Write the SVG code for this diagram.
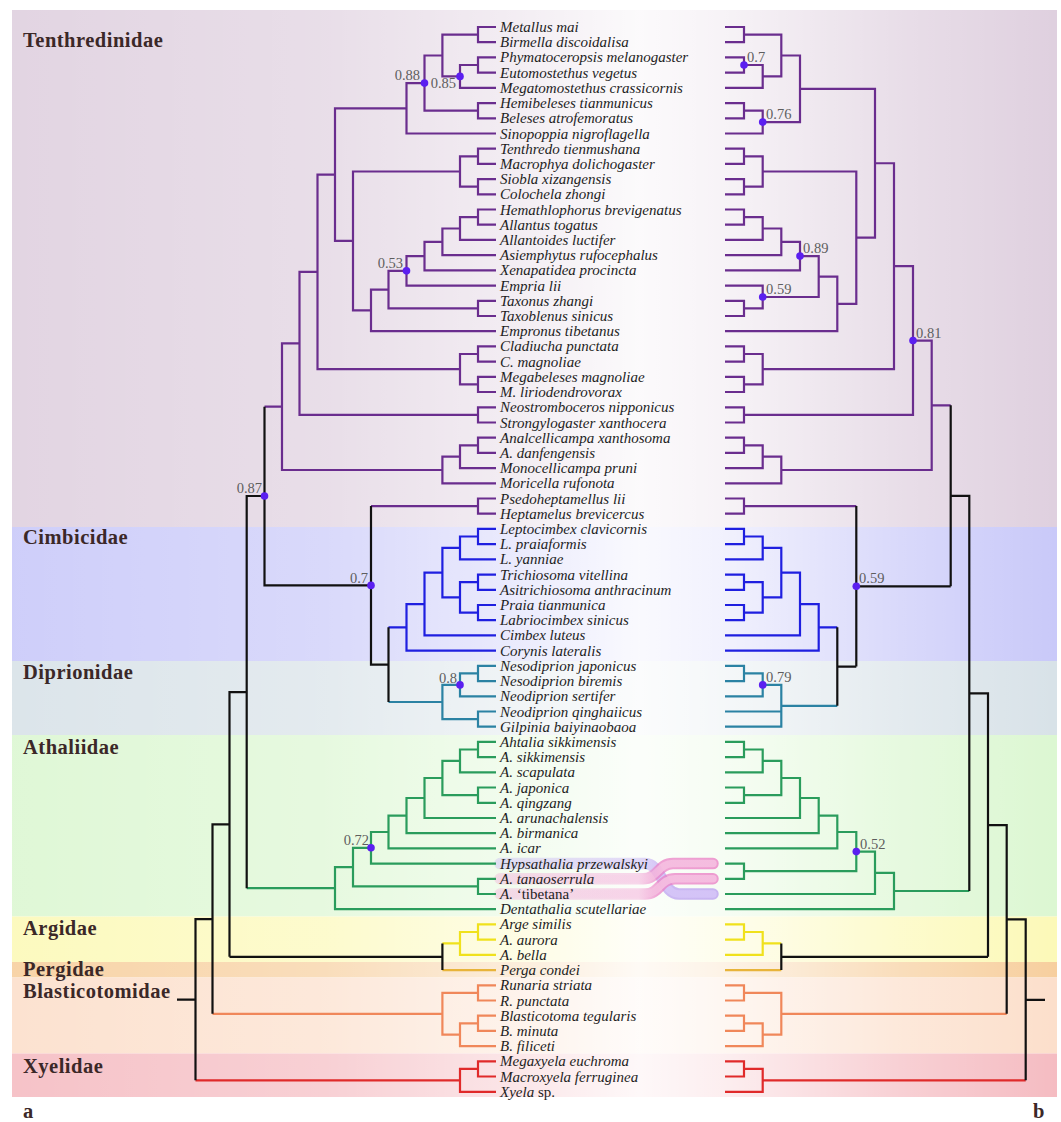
<svg xmlns="http://www.w3.org/2000/svg" width="1061" height="1122" viewBox="0 0 1061 1122">
<style>
.t{font-family:"Liberation Serif","Times New Roman",serif;font-style:italic;font-size:15px;fill:#1e1e1e}
.n{font-style:normal}
.s{font-family:"Liberation Serif","Times New Roman",serif;font-size:14.5px;fill:#5e5e5e}
.f{font-family:"Liberation Serif","Times New Roman",serif;font-weight:bold;font-size:20.5px;fill:#3b2828;letter-spacing:0.5px}
.e{fill:none;stroke-width:2.2;stroke-linejoin:miter}
.pu{stroke:#6a2d8e}.bl{stroke:#1f1fe0}.te{stroke:#2b82a3}.gr{stroke:#2a9c5c}.ye{stroke:#f0e11c}.pe{stroke:#e8b43a}.or{stroke:#f0875a}.rd{stroke:#e02a2a}.bk{stroke:#111}
.d{fill:#5b1ff0}
</style>
<defs>
<linearGradient id="wash" x1="12" y1="0" x2="1057" y2="0" gradientUnits="userSpaceOnUse">
<stop offset="0" stop-color="#fff" stop-opacity="0.1"/>
<stop offset="0.3" stop-color="#fff" stop-opacity="0.3"/>
<stop offset="0.47" stop-color="#fff" stop-opacity="0.6"/>
<stop offset="0.6" stop-color="#fff" stop-opacity="0.9"/>
<stop offset="0.68" stop-color="#fff" stop-opacity="0.75"/>
<stop offset="0.85" stop-color="#fff" stop-opacity="0.3"/>
<stop offset="1" stop-color="#fff" stop-opacity="0"/>
</linearGradient>
<linearGradient id="pkO" x1="500" y1="0" x2="713" y2="0" gradientUnits="userSpaceOnUse">
<stop offset="0" stop-color="#f2a6d6" stop-opacity="0.35"/>
<stop offset="0.65" stop-color="#f2a6d6" stop-opacity="0.45"/>
<stop offset="0.74" stop-color="#ea7cc4" stop-opacity="0.7"/>
<stop offset="1" stop-color="#ea7cc4" stop-opacity="0.75"/>
</linearGradient>
<linearGradient id="pkI" x1="500" y1="0" x2="713" y2="0" gradientUnits="userSpaceOnUse">
<stop offset="0" stop-color="#f7cce6" stop-opacity="0.25"/>
<stop offset="0.68" stop-color="#f7cce6" stop-opacity="0.3"/>
<stop offset="0.76" stop-color="#f6c2e2" stop-opacity="0.85"/>
<stop offset="1" stop-color="#f6c2e2" stop-opacity="0.85"/>
</linearGradient>
<linearGradient id="lvO" x1="500" y1="0" x2="713" y2="0" gradientUnits="userSpaceOnUse">
<stop offset="0" stop-color="#c4b0f4" stop-opacity="0.35"/>
<stop offset="0.65" stop-color="#c4b0f4" stop-opacity="0.45"/>
<stop offset="0.78" stop-color="#b89cf0" stop-opacity="0.7"/>
<stop offset="1" stop-color="#b89cf0" stop-opacity="0.75"/>
</linearGradient>
<linearGradient id="lvI" x1="500" y1="0" x2="713" y2="0" gradientUnits="userSpaceOnUse">
<stop offset="0" stop-color="#dcd0fa" stop-opacity="0.25"/>
<stop offset="0.68" stop-color="#dcd0fa" stop-opacity="0.3"/>
<stop offset="0.8" stop-color="#d6c6f8" stop-opacity="0.85"/>
<stop offset="1" stop-color="#d6c6f8" stop-opacity="0.85"/>
</linearGradient>
</defs>
<rect width="1061" height="1122" fill="#fff"/>
<g id="bands">
<rect x="12" y="10" width="1045" height="517" fill="#dfd0df"/>
<rect x="12" y="527" width="1045" height="134" fill="#c9c9f9"/>
<rect x="12" y="661" width="1045" height="74" fill="#d8e2e8"/>
<rect x="12" y="735" width="1045" height="181.5" fill="#dcf7d2"/>
<rect x="12" y="916.5" width="1045" height="45.5" fill="#fcf9b8"/>
<rect x="12" y="962" width="1045" height="15.5" fill="#f7cf9e"/>
<rect x="12" y="977.5" width="1045" height="76" fill="#fcdfcb"/>
<rect x="12" y="1053.5" width="1045" height="43.5" fill="#f5bcc2"/>
<rect x="12" y="10" width="1045" height="1087" fill="url(#wash)"/>
</g>
<g id="family-labels">
<text class="f" x="23" y="47">Tenthredinidae</text>
<text class="f" x="23" y="544">Cimbicidae</text>
<text class="f" x="23" y="679">Diprionidae</text>
<text class="f" x="23" y="754">Athaliidae</text>
<text class="f" x="23" y="935">Argidae</text>
<text class="f" x="23" y="975.5">Pergidae</text>
<text class="f" x="23" y="998">Blasticotomidae</text>
<text class="f" x="23" y="1073">Xyelidae</text>
<text class="f" x="23" y="1118">a</text>
<text class="f" x="1033" y="1118">b</text>
</g>
<g id="ribbons" fill="none" stroke-linecap="round">
<path d="M500 863.6H645C662 863.6 662 894 679 894H713" stroke="url(#lvO)" stroke-width="11.5"/>
<path d="M500 863.6H645C662 863.6 662 894 679 894H713" stroke="url(#lvI)" stroke-width="7.5"/>
<path d="M500 878.8H643C658 878.8 658 863.6 673 863.6H713" stroke="url(#pkO)" stroke-width="11.5"/>
<path d="M500 878.8H643C658 878.8 658 863.6 673 863.6H713" stroke="url(#pkI)" stroke-width="7.5"/>
<path d="M500 894H645C660 894 660 878.8 675 878.8H713" stroke="url(#pkO)" stroke-width="11.5"/>
<path d="M500 894H645C660 894 660 878.8 675 878.8H713" stroke="url(#pkI)" stroke-width="7.5"/>
</g>
<g id="connectors">
<g id="tree-a">
<path class="e pu" d="M496 27H478V42.2H496M496 57.4H478V72.6H496M478 65H460V87.8H496M478 34.6H442.4V76.4H460M496 103.1H478V118.3H496M442.4 55.5H424.5V110.7H478M424.5 83.1H406.5V133.5H496M496 148.7H478V163.9H496M496 179.1H478V194.3H496M478 156.3H460V186.7H478M496 209.5H478V224.7H496M478 217.1H460V239.9H496M460 228.5H442.4V255.2H496M442.4 241.85H424.5V270.4H496M424.5 256.1H406.5V285.6H496M496 300.8H478V316H496M406.5 270.85H388.5V308.4H478M388.5 289.6H371V331.2H496M460 171.5H353V310.4H371M406.5 108.3H335V240.95H353M496 346.4H478V361.6H496M496 376.8H478V392H496M478 354H460V384.4H478M335 174.6H317.5V369.2H460M496 407.3H478V422.5H496M317.5 271.9H299.5V414.9H478M496 437.7H478V452.9H496M478 445.3H460V468.1H496M460 456.7H442.4V483.3H496M299.5 343.4H282V470H442.4M282 406.7H264.5M496 498.5H478V513.7H496M478 506.1H371"/>
<path class="e bl" d="M496 528.9H478V544.1H496M478 536.5H460V559.4H496M496 574.6H478V589.8H496M496 605H478V620.2H496M478 582.2H460V612.6H478M460 547.95H442.4V597.4H460M442.4 572.7H424.5V635.4H496M424.5 604.05H406.5V650.6H496M406.5 627.3H388.5"/>
<path class="e te" d="M496 665.8H478V681.1H496M478 673.45H460V696.3H496M496 711.5H478V726.7H496M460 684.9H442.4V719.1H478M442.4 702H388.5"/>
<path class="e gr" d="M496 741.9H478V757.1H496M478 749.5H460V772.3H496M496 787.5H478V802.8H496M460 760.9H442.4V795.15H478M442.4 778H424.5V818H496M424.5 798H406.5V833.2H496M406.5 815.6H388.5V848.4H496M388.5 832H371V863.6H496M496 878.8H478V894H496M371 847.8H353V886.4H478M353 867.1H335V909.2H496M335 888.15H246.7"/>
<path class="e ye" d="M496 924.4H478V939.6H496M478 932H460V954.9H496M460 943.45H442.4"/>
<path class="e pe" d="M442.4 970.1H496"/>
<path class="e or" d="M496 985.3H478V1000.5H496M496 1015.7H478V1030.9H496M478 1023.3H460V1046.1H496M478 992.9H442.4V1034.7H460M442.4 1013.8H212.5"/>
<path class="e rd" d="M496 1061.3H478V1076.5H496M478 1068.9H460V1091.8H496M460 1080.35H195.5"/>
<path class="e bk" d="M388.5 627.3V702M388.5 664.65H371V506.1M371 585.4H264.5V406.7M264.5 496H246.7V888.15M442.4 943.45V970.1M442.4 956.8H229.5M246.7 692.1H229.5V956.8M229.5 824.45H212.5V1013.8M212.5 919.1H195.5V1080.35M195.5 999.7H177"/>
</g>
<g id="tree-b">
<path class="e pu" d="M725 27H744V42.2H725M725 57.4H744V72.6H725M744 65H762.7V87.8H725M744 34.6H781.3V76.4H762.7M725 103.1H744V118.3H725M744 110.7H762.7V133.5H725M781.3 55.5H800V122.1H762.7M725 148.7H744V163.9H725M725 179.1H744V194.3H725M744 156.3H762.7V186.7H744M725 209.5H744V224.7H725M744 217.1H762.7V239.9H725M762.7 228.5H781.3V255.2H725M781.3 241.85H800V270.4H725M725 285.6H762.7V308.4H744M725 300.8H744V316H725M800 256.1H818.7V297H762.7M818.7 276.55H837.3V331.2H725M762.7 171.5H856.3V303.9H837.3M800 88.8H875V237.7H856.3M725 346.4H744V361.6H725M725 376.8H744V392H725M744 354H762.7V384.4H744M875 163.25H894V369.2H762.7M725 407.3H744V422.5H725M894 266.2H913V414.9H744M725 437.7H744V452.9H725M744 445.3H762.7V468.1H725M762.7 456.7H781.3V483.3H725M913 340.55H931.7V470H781.3M931.7 405.3H950.7M725 498.5H744V513.7H725M744 506.1H856.3"/>
<path class="e bl" d="M725 528.9H744V544.1H725M744 536.5H762.7V559.4H725M725 574.6H744V589.8H725M725 605H744V620.2H725M744 582.2H762.7V612.6H744M762.7 547.95H781.3V597.4H762.7M781.3 572.7H800V635.4H725M800 604.05H818.7V650.6H725M818.7 627.3H837.3"/>
<path class="e te" d="M725 665.8H744V681.1H725M744 673.45H762.7V696.3H725M762.7 684.9H781.3V726.7H725M725 711.5H781.3M781.3 705.8H837.3"/>
<path class="e gr" d="M725 741.9H744V757.1H725M744 749.5H762.7V772.3H725M725 787.5H744V802.8H725M762.7 760.9H781.3V795.15H744M781.3 778H800V818H725M800 798H818.7V833.2H725M818.7 815.6H837.3V848.4H725M725 863.6H744V878.8H725M837.3 832H856.3V871.2H744M856.3 851.6H875V894H725M875 872.8H894V909.2H725M894 891H969.3"/>
<path class="e ye" d="M725 924.4H744V939.6H725M744 932H762.7V954.9H725M762.7 943.45H781.3"/>
<path class="e pe" d="M725 970.1H781.3"/>
<path class="e or" d="M725 985.3H744V1000.5H725M725 1015.7H744V1030.9H725M744 1023.3H762.7V1046.1H725M744 992.9H781.3V1034.7H762.7M781.3 1013.8H1006.7"/>
<path class="e rd" d="M725 1061.3H744V1076.5H725M744 1068.9H762.7V1091.8H725M762.7 1080.35H1025.7"/>
<path class="e bk" d="M837.3 627.3V705.8M837.3 666.55H856.3M856.3 506.1V666.55M856.3 586.3H950.7M950.7 405.3V586.3M950.7 495.8H969.3V891M969.3 693.4H988V956.8M781.3 943.45V970.1M781.3 956.8H988M988 825.1H1006.7V1013.8M1006.7 919.45H1025.7V1080.35M1025.7 999.9H1045"/>
</g>
</g>
<g id="support">
<g id="support-a">
<circle class="d" cx="424.5" cy="83.1" r="3.8"/><text class="s" x="420" y="80" text-anchor="end">0.88</text>
<circle class="d" cx="460" cy="76.4" r="3.8"/><text class="s" x="456" y="87.5" text-anchor="end">0.85</text>
<circle class="d" cx="406.5" cy="270.85" r="3.8"/><text class="s" x="403" y="267.5" text-anchor="end">0.53</text>
<circle class="d" cx="264.5" cy="496" r="3.8"/><text class="s" x="262" y="493" text-anchor="end">0.87</text>
<circle class="d" cx="371" cy="585.4" r="3.8"/><text class="s" x="368" y="582.5" text-anchor="end">0.7</text>
<circle class="d" cx="460" cy="684.9" r="3.8"/><text class="s" x="457" y="682.5" text-anchor="end">0.8</text>
<circle class="d" cx="371" cy="847.8" r="3.8"/><text class="s" x="369" y="845" text-anchor="end">0.72</text>
</g>
<g id="support-b">
<circle class="d" cx="744" cy="65" r="3.8"/><text class="s" x="747" y="62">0.7</text>
<circle class="d" cx="762.7" cy="122.1" r="3.8"/><text class="s" x="766" y="119">0.76</text>
<circle class="d" cx="800" cy="256.1" r="3.8"/><text class="s" x="803" y="253">0.89</text>
<circle class="d" cx="762.7" cy="297" r="3.8"/><text class="s" x="766" y="294">0.59</text>
<circle class="d" cx="913" cy="340.55" r="3.8"/><text class="s" x="916" y="337.5">0.81</text>
<circle class="d" cx="856.3" cy="586.3" r="3.8"/><text class="s" x="859" y="582.5">0.59</text>
<circle class="d" cx="762.7" cy="684.9" r="3.8"/><text class="s" x="766" y="681.5">0.79</text>
<circle class="d" cx="856.3" cy="851.6" r="3.8"/><text class="s" x="860" y="849">0.52</text>
</g>
</g>
<g id="taxa">
<g id="taxa-tenthredinidae">
<text class="t" x="500" y="32">Metallus mai</text>
<text class="t" x="500" y="47.2">Birmella discoidalisa</text>
<text class="t" x="500" y="62.4">Phymatoceropsis melanogaster</text>
<text class="t" x="500" y="77.6">Eutomostethus vegetus</text>
<text class="t" x="500" y="92.8">Megatomostethus crassicornis</text>
<text class="t" x="500" y="108.1">Hemibeleses tianmunicus</text>
<text class="t" x="500" y="123.3">Beleses atrofemoratus</text>
<text class="t" x="500" y="138.5">Sinopoppia nigroflagella</text>
<text class="t" x="500" y="153.7">Tenthredo tienmushana</text>
<text class="t" x="500" y="168.9">Macrophya dolichogaster</text>
<text class="t" x="500" y="184.1">Siobla xizangensis</text>
<text class="t" x="500" y="199.3">Colochela zhongi</text>
<text class="t" x="500" y="214.5">Hemathlophorus brevigenatus</text>
<text class="t" x="500" y="229.7">Allantus togatus</text>
<text class="t" x="500" y="244.9">Allantoides luctifer</text>
<text class="t" x="500" y="260.2">Asiemphytus rufocephalus</text>
<text class="t" x="500" y="275.4">Xenapatidea procincta</text>
<text class="t" x="500" y="290.6">Empria lii</text>
<text class="t" x="500" y="305.8">Taxonus zhangi</text>
<text class="t" x="500" y="321">Taxoblenus sinicus</text>
<text class="t" x="500" y="336.2">Empronus tibetanus</text>
<text class="t" x="500" y="351.4">Cladiucha punctata</text>
<text class="t" x="500" y="366.6">C. magnoliae</text>
<text class="t" x="500" y="381.8">Megabeleses magnoliae</text>
<text class="t" x="500" y="397">M. liriodendrovorax</text>
<text class="t" x="500" y="412.3">Neostromboceros nipponicus</text>
<text class="t" x="500" y="427.5">Strongylogaster xanthocera</text>
<text class="t" x="500" y="442.7">Analcellicampa xanthosoma</text>
<text class="t" x="500" y="457.9">A. danfengensis</text>
<text class="t" x="500" y="473.1">Monocellicampa pruni</text>
<text class="t" x="500" y="488.3">Moricella rufonota</text>
<text class="t" x="500" y="503.5">Psedoheptamellus lii</text>
<text class="t" x="500" y="518.7">Heptamelus brevicercus</text>
</g>
<g id="taxa-cimbicidae">
<text class="t" x="500" y="533.9">Leptocimbex clavicornis</text>
<text class="t" x="500" y="549.1">L. praiaformis</text>
<text class="t" x="500" y="564.4">L. yanniae</text>
<text class="t" x="500" y="579.6">Trichiosoma vitellina</text>
<text class="t" x="500" y="594.8">Asitrichiosoma anthracinum</text>
<text class="t" x="500" y="610">Praia tianmunica</text>
<text class="t" x="500" y="625.2">Labriocimbex sinicus</text>
<text class="t" x="500" y="640.4">Cimbex luteus</text>
<text class="t" x="500" y="655.6">Corynis lateralis</text>
</g>
<g id="taxa-diprionidae">
<text class="t" x="500" y="670.8">Nesodiprion japonicus</text>
<text class="t" x="500" y="686.1">Nesodiprion biremis</text>
<text class="t" x="500" y="701.3">Neodiprion sertifer</text>
<text class="t" x="500" y="716.5">Neodiprion qinghaiicus</text>
<text class="t" x="500" y="731.7">Gilpinia baiyinaobaoa</text>
</g>
<g id="taxa-athaliidae">
<text class="t" x="500" y="746.9">Ahtalia sikkimensis</text>
<text class="t" x="500" y="762.1">A. sikkimensis</text>
<text class="t" x="500" y="777.3">A. scapulata</text>
<text class="t" x="500" y="792.5">A. japonica</text>
<text class="t" x="500" y="807.8">A. qingzang</text>
<text class="t" x="500" y="823">A. arunachalensis</text>
<text class="t" x="500" y="838.2">A. birmanica</text>
<text class="t" x="500" y="853.4">A. icar</text>
<text class="t" x="500" y="868.6">Hypsathalia przewalskyi</text>
<text class="t" x="500" y="883.8">A. tanaoserrula</text>
<text class="t" x="500" y="899">A. <tspan class="n">‘tibetana’</tspan></text>
<text class="t" x="500" y="914.2">Dentathalia scutellariae</text>
</g>
<g id="taxa-argidae">
<text class="t" x="500" y="929.4">Arge similis</text>
<text class="t" x="500" y="944.6">A. aurora</text>
<text class="t" x="500" y="959.9">A. bella</text>
</g>
<g id="taxa-pergidae">
<text class="t" x="500" y="975.1">Perga condei</text>
</g>
<g id="taxa-blasticotomidae">
<text class="t" x="500" y="990.3">Runaria striata</text>
<text class="t" x="500" y="1005.5">R. punctata</text>
<text class="t" x="500" y="1020.7">Blasticotoma tegularis</text>
<text class="t" x="500" y="1035.9">B. minuta</text>
<text class="t" x="500" y="1051.1">B. filiceti</text>
</g>
<g id="taxa-xyelidae">
<text class="t" x="500" y="1066.3">Megaxyela euchroma</text>
<text class="t" x="500" y="1081.5">Macroxyela ferruginea</text>
<text class="t" x="500" y="1096.8">Xyela<tspan class="n"> sp.</tspan></text>
</g>
</g>
</svg>
